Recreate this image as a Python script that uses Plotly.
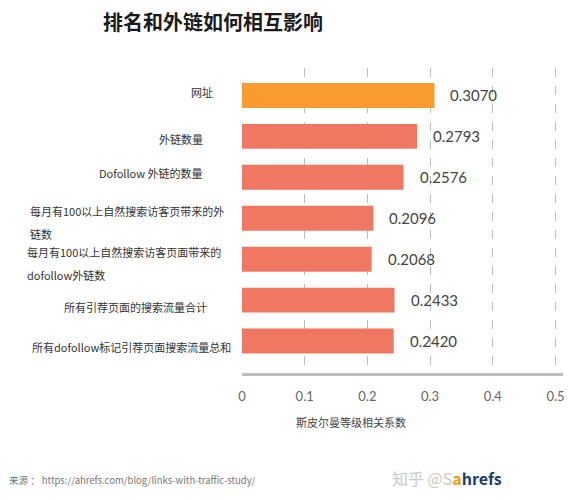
import plotly.graph_objects as go

# data
categories = [
    "网址",
    "外链数量",
    "Dofollow 外链的数量",
    "每月有100以上自然搜索访客页带来的外<br>链数",
    "每月有100以上自然搜索访客页面带来的<br>dofollow外链数",
    "所有引荐页面的搜索流量合计",
    "所有dofollow标记引荐页面搜索流量总和",
]
values = [0.3070, 0.2793, 0.2576, 0.2096, 0.2068, 0.2433, 0.2420]
x_ticks = [0, 0.1, 0.2, 0.3, 0.4, 0.5]
x_tick_labels = ["0", "0.1", "0.2", "0.3", "0.4", "0.5"]

title_text = "排名和外链如何相互影响"
axis_title = "斯皮尔曼等级相关系数"
source_text = "来源 ： https://ahrefs.com/blog/links-with-traffic-study/"

# styles
orange = "#F99B2E"
salmon = "#F07862"
bar_colors = [orange] + [salmon] * (len(values) - 1)
cjk = "Noto Sans CJK SC"
num_font = "Lato, Noto Sans CJK SC"

# the page puts the figure 8px in from the top-left corner
OFF = 8
W, H = 578 - OFF, 500 - OFF
plot_left, plot_right, plot_top, plot_bottom = 242, 563, 68, 373  # in window pixels
L = plot_left - OFF
R = W - (plot_right - OFF)
T = plot_top - OFF
B = H - (plot_bottom - OFF)
plot_w = plot_right - plot_left

# label placement (anchor side, window pixel x, yshift)
label_pos = [
    ("right", 215, 3),
    ("right", 205, -3),
    ("right", 205, 4),
    ("left", 28, 0),
    ("left", 25, 0),
    ("right", 209, -7),
    ("right", 233, -6),
]

y_idx = list(range(len(categories)))

fig = go.Figure()
fig.add_trace(go.Bar(
    x=values,
    y=y_idx,
    orientation="h",
    marker=dict(color=bar_colors, line=dict(width=0)),
    width=0.61,
    hoverinfo="x",
))

annotations = []

# value labels right of the bars
for i, v in enumerate(values):
    annotations.append(dict(
        x=v, y=i, xref="x", yref="y",
        text="%.4f" % v, showarrow=False,
        xanchor="left", yanchor="middle", xshift=14,
        font=dict(family=num_font, size=15, color="#444444"),
    ))

# category labels on the left
for i, cat in enumerate(categories):
    side, px, ys = label_pos[i]
    lines = cat.split("<br>")
    for k, line in enumerate(lines):
        shift = ys if len(lines) == 1 else 7 - k * 23
        annotations.append(dict(
            x=(px - plot_left) / plot_w, y=i, xref="paper", yref="y",
            text=line, showarrow=False,
            xanchor=side, yanchor="middle", yshift=shift,
            font=dict(family=cjk, size=11, color="#333333"),
        ))

# axis title
annotations.append(dict(
    x=(351 - plot_left) / plot_w, y=0, xref="paper", yref="paper",
    text=axis_title, showarrow=False,
    xanchor="center", yanchor="middle", yshift=-49,
    font=dict(family=cjk, size=11, color="#444444"),
))

# source line
annotations.append(dict(
    x=(7 - plot_left) / plot_w, y=0, xref="paper", yref="paper",
    text=source_text, showarrow=False,
    xanchor="left", yanchor="middle", yshift=-107,
    font=dict(family=cjk, size=9.5, color="#777777"),
))

# watermark
annotations.append(dict(
    x=(390 - plot_left) / plot_w, y=0, xref="paper", yref="paper",
    text="<span style='color:#c9c9c9'>知乎 @S</span>"
         "<span style='color:#F39C12'><b>a</b></span>"
         "<span style='color:#1C3D6E'><b>hrefs</b></span>",
    showarrow=False,
    xanchor="left", yanchor="middle", yshift=-105,
    font=dict(family=cjk, size=16, color="#c9c9c9"),
))

fig.update_layout(
    width=W, height=H,
    margin=dict(l=L, r=R, t=T, b=B, pad=0),
    paper_bgcolor="white",
    plot_bgcolor="white",
    showlegend=False,
    title=dict(
        text="<b>" + title_text + "</b>",
        x=(103 - OFF) / W, xanchor="left", xref="container",
        y=1 - (23 - OFF) / H, yanchor="middle", yref="container",
        font=dict(family=cjk, size=20, color="#1a1a1a"),
    ),
    annotations=annotations,
)

fig.update_xaxes(
    range=[0, 0.512],
    tickvals=x_ticks,
    ticktext=x_tick_labels,
    showgrid=True,
    gridcolor="#bcbcbc",
    griddash="dash",
    gridwidth=1,
    zeroline=False,
    showline=True,
    linecolor="#bdbdbd",
    linewidth=3,
    ticks="",
    ticklabelstandoff=9,
    tickfont=dict(family=num_font, size=13, color="#666666"),
    fixedrange=True,
)

fig.update_yaxes(
    range=[6.78, -0.67],
    showticklabels=False,
    showgrid=False,
    zeroline=False,
    showline=False,
    fixedrange=True,
)

fig.write_html("out.html")
